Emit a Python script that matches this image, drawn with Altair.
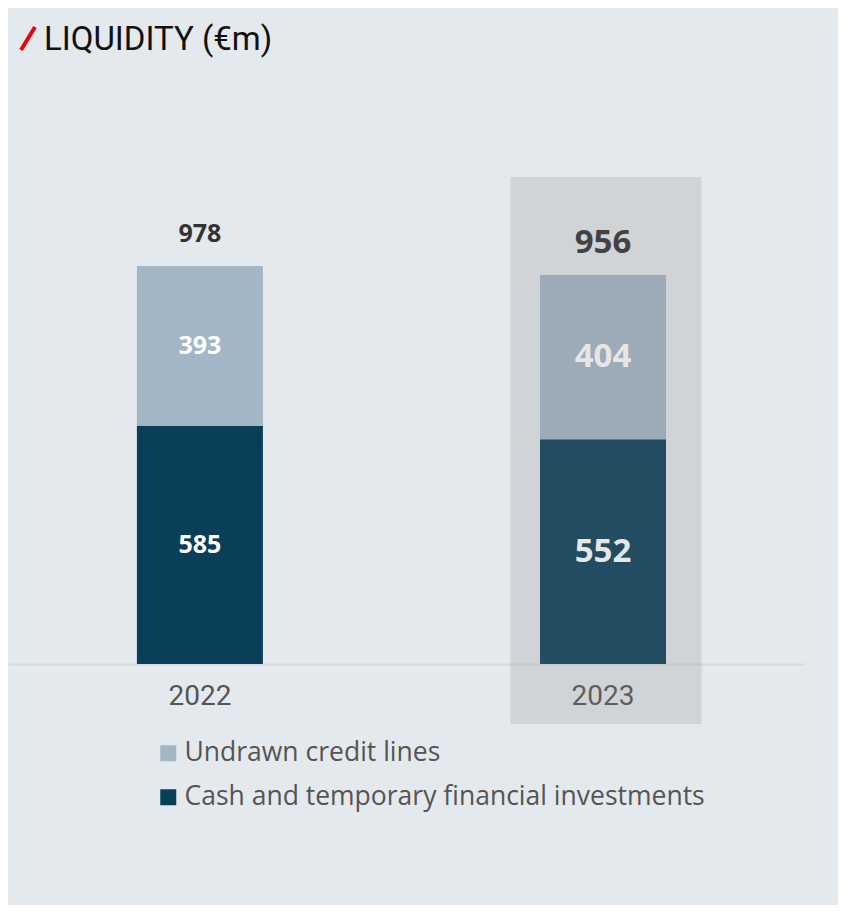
import altair as alt
import pandas as pd

years = ["2022", "2023"]
cash = [585, 552]
undrawn = [393, 404]
totals = [978, 956]
series = ["Undrawn credit lines", "Cash and temporary financial investments"]
colors = ["#a3b6c5", "#0a3f5a"]

rows = []
for y, c, u in zip(years, cash, undrawn):
    rows.append({"year": y, "series": series[1], "value": c, "order": 0, "mid": c / 2})
    rows.append({"year": y, "series": series[0], "value": u, "order": 1, "mid": c + u / 2})
df = pd.DataFrame(rows)
tot = pd.DataFrame({"year": years, "total": totals})
hl = pd.DataFrame({"year": ["2023"]})

xscale = alt.Scale(domain=years, paddingInner=0.6873, paddingOuter=0.331, align=0.483)
yscale = alt.Scale(domain=[0, 1612], nice=False, zero=True)

x = alt.X("year:N", scale=xscale, sort=years,
          axis=alt.Axis(title=None, labelAngle=0, labelFontSize=28, labelColor="#555555",
                        labelFont="Roboto", ticks=False, domainColor="#d5d9dc", domainWidth=2,
                        labelPadding=18))

bars = alt.Chart(df).mark_bar(width=126).encode(
    x=x,
    y=alt.Y("value:Q", stack="zero", scale=yscale, axis=None),
    color=alt.Color("series:N", scale=alt.Scale(domain=series, range=colors),
                    legend=alt.Legend(title=None, orient="none", legendX=147, legendY=732,
                                      symbolType="square", symbolSize=256, symbolStrokeWidth=0,
                                      labelFontSize=26.5, labelColor="#555555", labelFont="Open Sans",
                                      labelLimit=0, rowPadding=17, labelOffset=3, symbolOffset=0)),
    order=alt.Order("order:Q"),
)

seg_text = alt.Chart(df).mark_text(font="Open Sans", fontWeight="bold", color="white",
                                    baseline="middle").encode(
    x=alt.X("year:N", scale=xscale, sort=years),
    y=alt.Y("mid:Q", scale=yscale),
    text="value:Q",
    size=alt.condition(alt.datum.year == "2023", alt.value(33), alt.value(25)),
)

tot_text = alt.Chart(tot).mark_text(font="Open Sans", fontWeight="bold", color="#333333",
                                     baseline="middle", dy=-32).encode(
    x=alt.X("year:N", scale=xscale, sort=years),
    y=alt.Y("total:Q", scale=yscale),
    text="total:Q",
    size=alt.condition(alt.datum.year == "2023", alt.value(33), alt.value(25)),
)

overlay = alt.Chart(hl).mark_bar(width=191, color="#808282", opacity=0.2, xOffset=3).encode(
    x=alt.X("year:N", scale=xscale, sort=years),
    y=alt.value(169),
    y2=alt.value(716),
)

slash = alt.Chart(pd.DataFrame({"t": ["/"]})).mark_rule(
    color="#e30613", strokeWidth=4).encode(
    x=alt.value(13), x2=alt.value(27), y=alt.value(42), y2=alt.value(19))

title = alt.Chart(pd.DataFrame({"t": ["LIQUIDITY (€m)"]})).mark_text(
    font="Roboto", fontSize=33, color="#111111", align="left",
    baseline="alphabetic").encode(x=alt.value(36), y=alt.value(42), text="t:N")

chart = alt.layer(bars, seg_text, tot_text, overlay, slash, title).properties(
    width=796, height=656,
    padding={"left": 0, "top": 0, "right": 34, "bottom": 241},
    autosize=alt.AutoSizeParams(type="none"),
    background="#e4e9ed",
).configure_view(stroke=None)

chart.save("out.html", embed_options={"renderer": "svg", "actions": False})
